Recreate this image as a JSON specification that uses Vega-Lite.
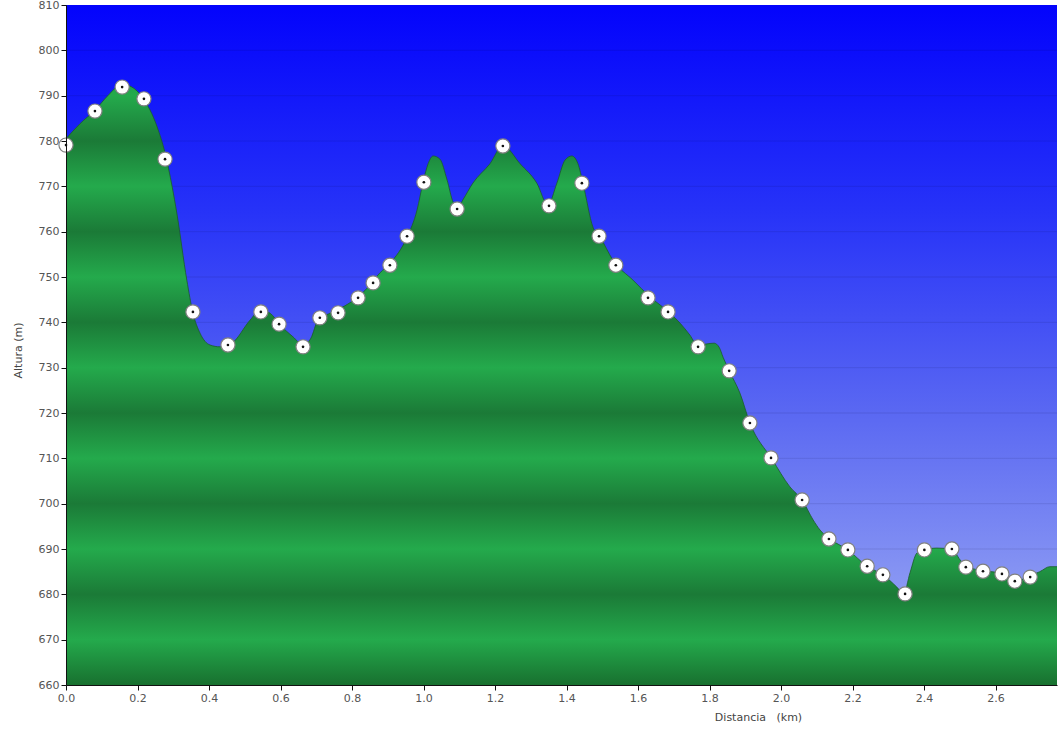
{
  "$schema": "https://vega.github.io/schema/vega-lite/v6.json",
  "width": 991,
  "height": 680,
  "autosize": {"type": "none"},
  "padding": {"left": 66, "top": 5, "right": 3, "bottom": 45},
  "background": "white",
  "config": {
    "view": {"stroke": null},
    "axis": {
      "labelFont": "DejaVu Sans",
      "titleFont": "DejaVu Sans",
      "labelFontSize": 11,
      "titleFontSize": 11,
      "titleFontWeight": "normal",
      "labelColor": "#555555",
      "titleColor": "#444444",
      "domainColor": "#111111",
      "tickColor": "#111111",
      "tickSize": 5,
      "grid": false,
      "labelFlush": false
    }
  },
  "datasets": {
    "profile": [
      {"km": 0.000, "alt": 780.5}, {"km": 0.039, "alt": 783.8}, {"km": 0.081, "alt": 786.8},
      {"km": 0.117, "alt": 790.0}, {"km": 0.157, "alt": 792.5}, {"km": 0.182, "alt": 792.0},
      {"km": 0.215, "alt": 789.5}, {"km": 0.255, "alt": 783.1}, {"km": 0.277, "alt": 777.4},
      {"km": 0.297, "alt": 769.9}, {"km": 0.310, "alt": 764.1}, {"km": 0.338, "alt": 749.3},
      {"km": 0.355, "alt": 742.1}, {"km": 0.375, "alt": 737.6}, {"km": 0.403, "alt": 735.0},
      {"km": 0.431, "alt": 734.6}, {"km": 0.464, "alt": 735.4}, {"km": 0.515, "alt": 740.5},
      {"km": 0.543, "alt": 742.7}, {"km": 0.571, "alt": 742.0}, {"km": 0.599, "alt": 739.4},
      {"km": 0.635, "alt": 736.8}, {"km": 0.663, "alt": 735.0}, {"km": 0.685, "alt": 736.5},
      {"km": 0.705, "alt": 740.5}, {"km": 0.738, "alt": 742.0}, {"km": 0.794, "alt": 744.3},
      {"km": 0.836, "alt": 747.0}, {"km": 0.878, "alt": 750.9}, {"km": 0.906, "alt": 753.0},
      {"km": 0.954, "alt": 758.8}, {"km": 0.982, "alt": 764.8}, {"km": 0.999, "alt": 771.0},
      {"km": 1.013, "alt": 775.0}, {"km": 1.027, "alt": 776.7}, {"km": 1.046, "alt": 776.0},
      {"km": 1.066, "alt": 771.4}, {"km": 1.083, "alt": 766.5}, {"km": 1.097, "alt": 765.4},
      {"km": 1.110, "alt": 767.0}, {"km": 1.138, "alt": 770.7}, {"km": 1.186, "alt": 775.0},
      {"km": 1.222, "alt": 779.0}, {"km": 1.270, "alt": 775.0}, {"km": 1.317, "alt": 770.7},
      {"km": 1.348, "alt": 765.9}, {"km": 1.373, "alt": 770.7}, {"km": 1.396, "alt": 775.8},
      {"km": 1.415, "alt": 776.7}, {"km": 1.432, "alt": 775.0}, {"km": 1.446, "alt": 770.7},
      {"km": 1.474, "alt": 761.0}, {"km": 1.494, "alt": 758.8}, {"km": 1.530, "alt": 753.7},
      {"km": 1.586, "alt": 749.3}, {"km": 1.634, "alt": 745.6}, {"km": 1.690, "alt": 742.0},
      {"km": 1.718, "alt": 739.8}, {"km": 1.745, "alt": 737.2}, {"km": 1.768, "alt": 734.8},
      {"km": 1.790, "alt": 735.2}, {"km": 1.813, "alt": 735.4}, {"km": 1.827, "alt": 734.5},
      {"km": 1.838, "alt": 732.3}, {"km": 1.855, "alt": 729.3}, {"km": 1.885, "alt": 724.4},
      {"km": 1.913, "alt": 717.8}, {"km": 1.975, "alt": 709.8}, {"km": 2.025, "alt": 703.7},
      {"km": 2.059, "alt": 700.8}, {"km": 2.090, "alt": 696.4}, {"km": 2.109, "alt": 694.2},
      {"km": 2.137, "alt": 692.2}, {"km": 2.187, "alt": 689.8}, {"km": 2.241, "alt": 686.2},
      {"km": 2.285, "alt": 684.3}, {"km": 2.324, "alt": 681.6}, {"km": 2.343, "alt": 680.1},
      {"km": 2.361, "alt": 684.8}, {"km": 2.380, "alt": 689.1}, {"km": 2.400, "alt": 689.8},
      {"km": 2.436, "alt": 690.2}, {"km": 2.478, "alt": 690.0}, {"km": 2.501, "alt": 687.6},
      {"km": 2.520, "alt": 686.1}, {"km": 2.568, "alt": 685.2}, {"km": 2.618, "alt": 684.6},
      {"km": 2.654, "alt": 682.9}, {"km": 2.697, "alt": 684.1}, {"km": 2.724, "alt": 685.0},
      {"km": 2.752, "alt": 686.1}, {"km": 2.772, "alt": 686.1}
    ],
    "waypoints": [
      {"km": 0.000, "alt": 779.1}, {"km": 0.081, "alt": 786.6}, {"km": 0.157, "alt": 791.9},
      {"km": 0.218, "alt": 789.3}, {"km": 0.277, "alt": 776.0}, {"km": 0.355, "alt": 742.3},
      {"km": 0.453, "alt": 735.0}, {"km": 0.545, "alt": 742.3}, {"km": 0.596, "alt": 739.6},
      {"km": 0.663, "alt": 734.6}, {"km": 0.710, "alt": 741.0}, {"km": 0.761, "alt": 742.1},
      {"km": 0.817, "alt": 745.4}, {"km": 0.859, "alt": 748.7}, {"km": 0.906, "alt": 752.6},
      {"km": 0.954, "alt": 759.0}, {"km": 1.001, "alt": 770.9}, {"km": 1.094, "alt": 765.0},
      {"km": 1.222, "alt": 778.9}, {"km": 1.351, "alt": 765.7}, {"km": 1.443, "alt": 770.7},
      {"km": 1.491, "alt": 759.0}, {"km": 1.538, "alt": 752.6}, {"km": 1.628, "alt": 745.4},
      {"km": 1.684, "alt": 742.3}, {"km": 1.768, "alt": 734.6}, {"km": 1.855, "alt": 729.3},
      {"km": 1.913, "alt": 717.8}, {"km": 1.972, "alt": 710.1}, {"km": 2.059, "alt": 700.8},
      {"km": 2.134, "alt": 692.2}, {"km": 2.187, "alt": 689.8}, {"km": 2.241, "alt": 686.2},
      {"km": 2.285, "alt": 684.3}, {"km": 2.347, "alt": 680.1}, {"km": 2.401, "alt": 689.8},
      {"km": 2.478, "alt": 690.0}, {"km": 2.517, "alt": 686.0}, {"km": 2.565, "alt": 685.1},
      {"km": 2.618, "alt": 684.5}, {"km": 2.654, "alt": 682.9}, {"km": 2.697, "alt": 683.8}
    ],
    "grid": [
      {"g": 670}, {"g": 680}, {"g": 690}, {"g": 700}, {"g": 710}, {"g": 720}, {"g": 730},
      {"g": 740}, {"g": 750}, {"g": 760}, {"g": 770}, {"g": 780}, {"g": 790}, {"g": 800}
    ],
    "frame": [{"x0": 0, "x1": 2.772, "y0": 660, "y1": 810}]
  },
  "layer": [
    {
      "data": {"name": "frame"},
      "mark": {
        "type": "rect",
        "color": {
          "gradient": "linear", "x1": 0, "y1": 0, "x2": 0, "y2": 1,
          "stops": [
            {"offset": 0, "color": "#0303fc"},
            {"offset": 0.3, "color": "#2632f8"},
            {"offset": 0.6, "color": "#5a68f2"},
            {"offset": 0.85, "color": "#8896f3"},
            {"offset": 1, "color": "#a0acf5"}
          ]
        }
      },
      "encoding": {
        "x": {"field": "x0", "type": "quantitative", "scale": {"domain": [0, 2.772], "nice": false, "zero": false},
              "axis": {"values": [0, 0.2, 0.4, 0.6, 0.8, 1.0, 1.2, 1.4, 1.6, 1.8, 2.0, 2.2, 2.4, 2.6], "format": ".1f",
                       "title": "Distancia\u00a0\u00a0\u00a0(km)", "titleX": 692, "titleY": 32, "titleAlign": "center", "titleBaseline": "middle",
                       "labelPadding": 2, "zindex": 1}},
        "x2": {"field": "x1"},
        "y": {"field": "y0", "type": "quantitative", "scale": {"domain": [660, 810], "nice": false, "zero": false},
              "axis": {"values": [660, 670, 680, 690, 700, 710, 720, 730, 740, 750, 760, 770, 780, 790, 800, 810],
                       "title": "Altura (m)", "titleX": -48, "titleY": 345, "titleAngle": -90, "titleAlign": "center",
                       "titleBaseline": "middle", "labelPadding": 2, "zindex": 1}},
        "y2": {"field": "y1"}
      }
    },
    {
      "data": {"name": "grid"},
      "mark": {"type": "rule", "color": "#000033", "opacity": 0.1, "strokeWidth": 1},
      "encoding": {"y": {"field": "g", "type": "quantitative"}}
    },
    {
      "data": {"name": "profile"},
      "mark": {
        "type": "area",
        "interpolate": "monotone",
        "color": {
          "gradient": "linear", "x1": 0, "y1": 0, "x2": 0, "y2": 1,
          "stops": [
            {"offset": 0, "color": "#23a44a"},
            {"offset": 0.0189, "color": "#24aa4c"},
            {"offset": 0.0943, "color": "#1b7a37"},
            {"offset": 0.1698, "color": "#24aa4c"},
            {"offset": 0.2453, "color": "#1b7a37"},
            {"offset": 0.3208, "color": "#24aa4c"},
            {"offset": 0.3962, "color": "#1b7a37"},
            {"offset": 0.4717, "color": "#24aa4c"},
            {"offset": 0.5472, "color": "#1b7a37"},
            {"offset": 0.6226, "color": "#24aa4c"},
            {"offset": 0.6981, "color": "#1b7a37"},
            {"offset": 0.7736, "color": "#24aa4c"},
            {"offset": 0.8491, "color": "#1b7a37"},
            {"offset": 0.9245, "color": "#24aa4c"},
            {"offset": 1, "color": "#18702f"}
          ]
        }
      },
      "encoding": {
        "x": {"field": "km", "type": "quantitative"},
        "y": {"field": "alt", "type": "quantitative", "stack": null},
        "y2": {"datum": 660}
      }
    },
    {
      "data": {"name": "profile"},
      "mark": {"type": "line", "interpolate": "monotone", "color": "#1a5c2b", "strokeWidth": 1, "opacity": 0.8},
      "encoding": {
        "x": {"field": "km", "type": "quantitative"},
        "y": {"field": "alt", "type": "quantitative"}
      }
    },
    {
      "data": {"name": "waypoints"},
      "mark": {"type": "point", "filled": true, "fill": "#ffffff", "stroke": "#808080", "strokeWidth": 1.2, "size": 200, "opacity": 1},
      "encoding": {
        "x": {"field": "km", "type": "quantitative"},
        "y": {"field": "alt", "type": "quantitative"}
      }
    },
    {
      "data": {"name": "waypoints"},
      "mark": {"type": "point", "filled": true, "color": "#111111", "size": 7, "opacity": 1},
      "encoding": {
        "x": {"field": "km", "type": "quantitative"},
        "y": {"field": "alt", "type": "quantitative"}
      }
    }
  ]
}
